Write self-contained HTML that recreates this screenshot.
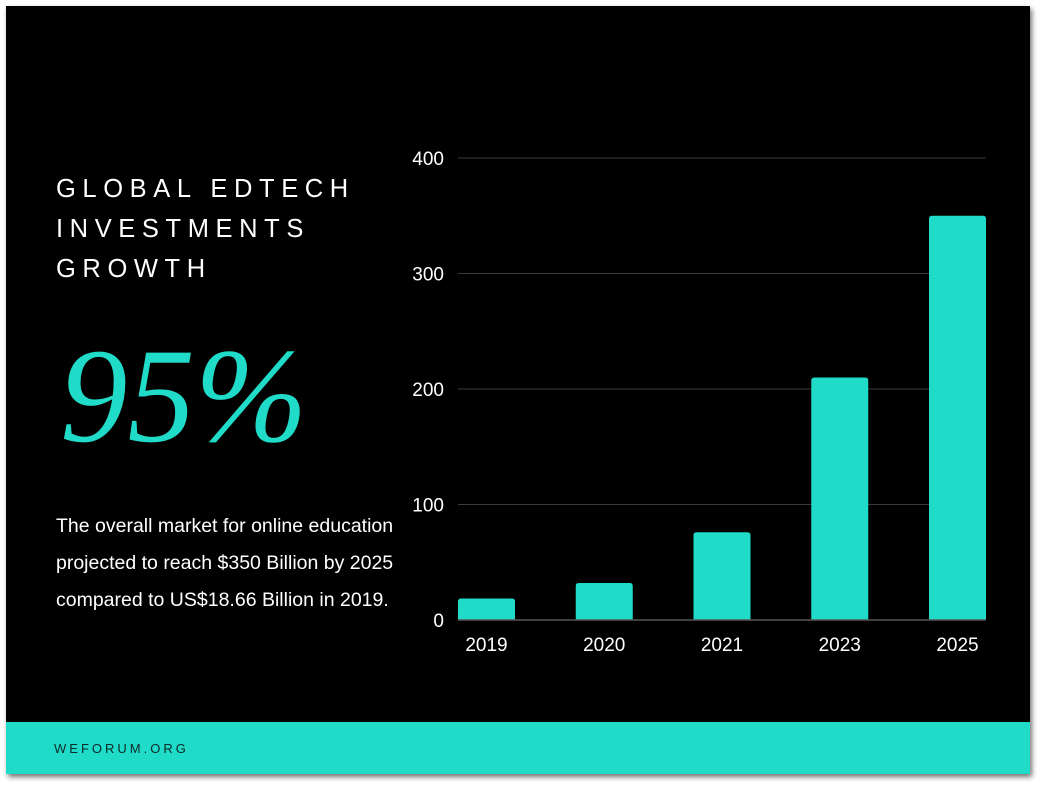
<!DOCTYPE html>
<html><head><meta charset="utf-8"><style>
body{margin:0;width:1044px;height:788px;background:#fff;position:relative;overflow:hidden;font-family:"Liberation Sans",sans-serif}
#card{position:absolute;left:6px;top:6px;width:1024px;height:768px;background:#000;box-shadow:2px 3px 5px rgba(0,0,0,.55)}
#footer{position:absolute;left:0;top:716px;width:1024px;height:52px;background:#20dbc8}
#footer span{position:absolute;left:48px;top:19px;font-size:13px;letter-spacing:3px;color:#0b2a28}
#title{position:absolute;left:50px;top:163px;color:#fff;font-size:25.5px;letter-spacing:6.6px;line-height:40px}
#big{position:absolute;left:54px;top:323px;color:#20dbc8;font-family:"Liberation Serif",serif;font-style:italic;font-size:135px;line-height:135px}
#desc{position:absolute;left:50px;top:502px;color:#fff;font-size:19.5px;line-height:37px}
svg{position:absolute;left:0;top:0}
</style></head><body>
<div id="card">
<div id="title">GLOBAL EDTECH<br>INVESTMENTS<br>GROWTH</div>
<div id="big">95%</div>
<div id="desc">The overall market for online education<br>projected to reach $350 Billion by 2025<br>compared to US$18.66 Billion in 2019.</div>
<svg id="chart" width="1024" height="716"></svg>
<div id="footer"><span>WEFORUM.ORG</span></div>
</div>
<script>
const categories=["2019","2020","2021","2023","2025"];
const values=[18.66,32,76,210,350];
const ticks=[0,100,200,300,400];
const svg=document.getElementById('chart');
const NS='http://www.w3.org/2000/svg';
const x0=452,x1=980,y0=614,yTop=152,maxV=400;
const y=v=>y0-(v/maxV)*(y0-yTop);
const bw=57;
const step=(x1-x0-bw)/(categories.length-1);
const xc=i=>x0+bw/2+step*i;
function mk(t,a){const e=document.createElementNS(NS,t);for(const k in a)e.setAttribute(k,a[k]);svg.appendChild(e);return e;}
ticks.forEach(t=>{
  if(t>0){const l=mk('line',{x1:x0,x2:x1,y1:y(t),y2:y(t),stroke:'#3a3a3a','stroke-width':1});
  
  }
  const tx=mk('text',{x:438,y:y(t)+7,fill:'#fff','font-size':19,'text-anchor':'end','font-family':'Liberation Sans, sans-serif'});
  tx.textContent=t;
  
  
});
categories.forEach((c,i)=>{
  const b=mk('path',{fill:'#20dbc8',d:`M${xc(i)-bw/2},${y0} V${y(values[i])+3} q0,-3 3,-3 H${xc(i)+bw/2-3} q3,0 3,3 V${y0} Z`});
  
  
  const tx=mk('text',{x:xc(i),y:y0+31,fill:'#fff','font-size':19,'text-anchor':'middle','font-family':'Liberation Sans, sans-serif'});
  tx.textContent=c;
  
  
});
const ax=mk('line',{x1:x0,x2:x1,y1:y0,y2:y0,stroke:'#555','stroke-width':1.5});


</script>
</body></html>
